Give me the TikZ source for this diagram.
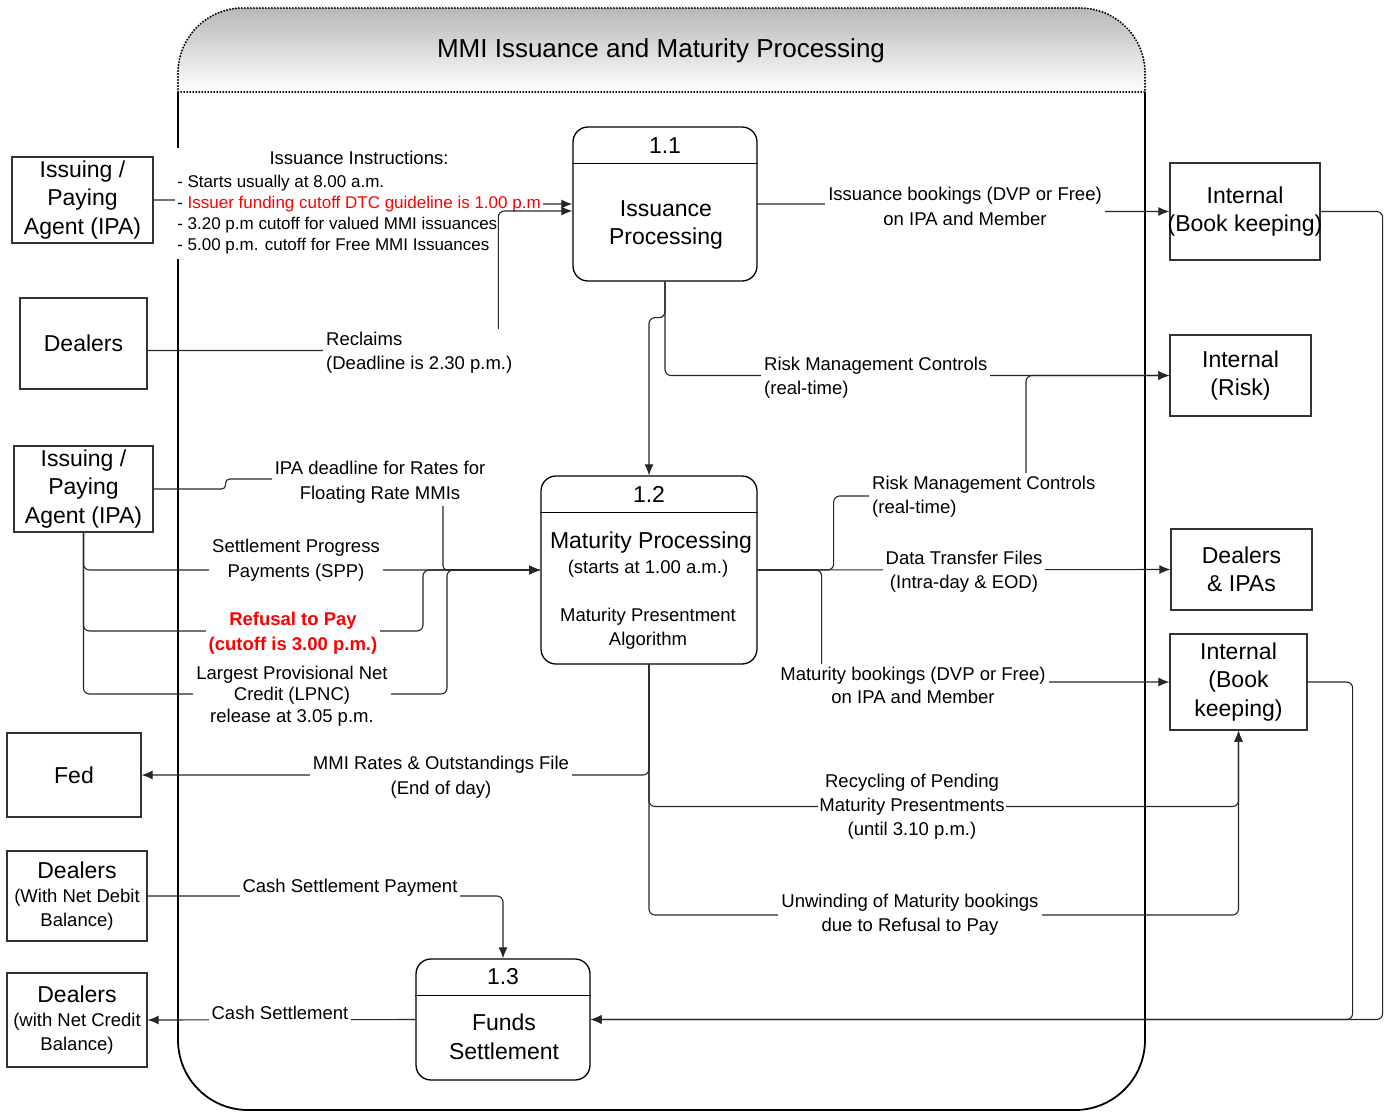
\documentclass[tikz,border=0pt]{standalone}
\usepackage{fontspec}
\setmainfont{Liberation Sans}
\usetikzlibrary{arrows.meta}

\pgfdeclarelayer{bg}
\pgfdeclarelayer{wires}
\pgfsetlayers{bg,wires,main}

\newcommand{\lblfont}{\fontsize{18.5}{24}\selectfont}
\newcommand{\boxfont}{\fontsize{23}{28.5}\selectfont}

\tikzset{
  ent/.style={draw=black!80, line width=1.2pt, fill=white, inner sep=0pt, align=center, font=\boxfont},
  proc/.style={draw, line width=1.3pt, rounded corners=15pt, fill=white, inner sep=0pt},
  num/.style={font=\boxfont, inner sep=0pt},
  lbl/.style={fill=white, inner xsep=3pt, inner ysep=3pt, align=center, font=\lblfont, yshift=-2.5pt},
  flow/.style={line width=1.1pt, draw=black!85, rounded corners=6pt},
  arr/.style={flow, -{Latex[length=11pt,width=9pt]}},
}

\begin{document}
\begin{tikzpicture}[x=1pt,y=-1pt]
\useasboundingbox (0,0) rectangle (1390,1112);

% container
\begin{pgfonlayer}{bg}
\shade[top color=black!28, bottom color=white]
  (178,92) -- (178,73) arc[start angle=180,end angle=90,radius=65pt]
  -- (1080,8) arc[start angle=90,end angle=0,radius=65pt] -- (1145,92) -- cycle;
\draw[line width=2.2pt, line cap=round, dash pattern=on 0pt off 3pt]
  (178,92) -- (178,73) arc[start angle=180,end angle=90,radius=65pt]
  -- (1080,8) arc[start angle=90,end angle=0,radius=65pt] -- (1145,92) -- cycle;
\draw[line width=1.8pt] (178,92) -- (178,1040) arc[start angle=180,end angle=270,radius=70pt]
  -- (1075,1110) arc[start angle=270,end angle=360,radius=70pt] -- (1145,92);
\end{pgfonlayer}

\node[font=\fontsize{26}{30}\selectfont] (title) at (661,51) {MMI Issuance and Maturity Processing};

% external entities
\node[ent, minimum width=141pt, minimum height=86pt] (ipa1) at (82.5,200) {Issuing /\\Paying\\Agent (IPA)};
\node[ent, minimum width=127pt, minimum height=91pt] (dealers1) at (83.5,343.5) {Dealers};
\node[ent, minimum width=139pt, minimum height=86pt] (ipa2) at (83.5,489) {Issuing /\\Paying\\Agent (IPA)};
\node[ent, minimum width=134pt, minimum height=84pt] (fed) at (74,775) {Fed};
\node[ent, minimum width=140pt, minimum height=90pt] (dDebit) at (77,896) {Dealers\\[-4pt]\lblfont(With Net Debit\\[-4.5pt]\lblfont Balance)};
\node[ent, minimum width=140pt, minimum height=94pt] (dCredit) at (77,1020) {Dealers\\[-4pt]\lblfont(with Net Credit\\[-4.5pt]\lblfont Balance)};
\node[ent, minimum width=150pt, minimum height=97pt] (book1) at (1245,211.5) {};
\node[font=\boxfont, align=center, inner sep=0pt] (book1txt) at (book1) {Internal\\(Book keeping)};
\node[ent, minimum width=141pt, minimum height=81pt] (risk) at (1240.5,375.5) {Internal\\(Risk)};
\node[ent, minimum width=141pt, minimum height=81pt] (dIPAs) at (1241.5,569.5) {Dealers\\\& IPAs};
\node[ent, minimum width=137pt, minimum height=96pt] (book2) at (1238.5,682) {Internal\\(Book\\keeping)};

% processes
\node[proc, minimum width=184pt, minimum height=154pt] (p11) at (665,204) {};
\draw[line width=1.3pt] ([yshift=-37pt]p11.north west) -- ([yshift=-37pt]p11.north east);
\node[num] (p11num) at (665,146) {1.1};
\node[font=\boxfont, align=center] (p11txt) at (666,225) {Issuance\\Processing};

\node[proc, minimum width=216pt, minimum height=188pt] (p12) at (649,570) {};
\draw[line width=1.3pt] ([yshift=-37pt]p12.north west) -- ([yshift=-37pt]p12.north east);
\node[num] (p12num) at (649,494) {1.2};
\node[font=\boxfont, inner sep=0pt] (p12txt) at (651,543) {Maturity Processing};
\node[font=\lblfont, inner sep=0pt] (p12time) at (648,569) {(starts at 1.00 a.m.)};
\node[font=\lblfont, align=center] (p12alg) at (648,629) {Maturity Presentment\\Algorithm};

\node[proc, minimum width=174pt, minimum height=121pt] (p13) at (503,1019.5) {};
\draw[line width=1.3pt] ([yshift=-37pt]p13.north west) -- ([yshift=-37pt]p13.north east);
\node[num] (p13num) at (503,977) {1.3};
\node[font=\boxfont, align=center] (p13txt) at (504,1037) {Funds\\Settlement};

% flow labels
\node[lbl, inner sep=2pt] (lblIssue) at (359,201) {\fontsize{17}{21}\selectfont\begin{tabular}{@{}l@{}}
  \multicolumn{1}{@{}c@{}}{\lblfont Issuance Instructions:}\\[2pt]
  - Starts usually at 8.00 a.m.\\
  - \textcolor{red}{Issuer funding cutoff DTC guideline is 1.00 p.m}\\
  - 3.20 p.m cutoff for valued MMI issuances\\
  - 5.00 p.m. cutoff for Free MMI Issuances
\end{tabular}};
\draw[arr] ([yshift=-7pt]dealers1.east) -| ([xshift=-74pt,yshift=-7pt]p11.west) -- ([yshift=-7pt]p11.west);
\node[lbl, align=left, anchor=west] (lblReclaim) at (323,350) {Reclaims\\(Deadline is 2.30 p.m.)};
\node[lbl, font=\fontsize{18.5}{25}\selectfont] (lblIssBook) at (965,203.5) {Issuance bookings (DVP or Free)\\on IPA and Member};
\node[lbl, align=left, anchor=west] (lblRisk1) at (761,375) {Risk Management Controls\\(real-time)};
\node[lbl, align=left, anchor=west] (lblRisk2) at (869,494.5) {Risk Management Controls\\(real-time)};
\node[lbl, font=\fontsize{18.5}{25}\selectfont] (lblFloat) at (380,479.5) {IPA deadline for Rates for\\Floating Rate MMIs};
\node[lbl, font=\fontsize{18.5}{25}\selectfont] (lblSPP) at (296,557.5) {Settlement Progress\\Payments (SPP)};
\node[lbl, text=red, font=\fontsize{18.5}{25}\selectfont\bfseries] (lblRefuse) at (293,630.5) {Refusal to Pay\\(cutoff is 3.00 p.m.)};
\node[lbl, font=\fontsize{18.5}{21.5}\selectfont] (lblLPNC) at (292,693.5) {Largest Provisional Net\\Credit (LPNC)\\release at 3.05 p.m.};
\node[lbl] (lblDTF) at (964,569) {Data Transfer Files\\(Intra-day \& EOD)};
\node[lbl, font=\fontsize{18.5}{23}\selectfont] (lblMatBook) at (913,682.5) {Maturity bookings (DVP or Free)\\on IPA and Member};
\node[lbl, font=\fontsize{18.5}{25}\selectfont] (lblFed) at (441,774.5) {MMI Rates \& Outstandings File\\(End of day)};
\node[lbl, inner sep=1.5pt] (lblRecyc) at (912,804) {Recycling of Pending\\Maturity Presentments\\(until 3.10 p.m.)};
\node[lbl] (lblUnwind) at (910,912.5) {Unwinding of Maturity bookings\\due to Refusal to Pay};
\node[lbl, inner ysep=5pt] (lblCashPay) at (350,885) {Cash Settlement Payment};
\node[lbl, inner ysep=5pt] (lblCash) at (280,1010) {Cash Settlement};

% flows
\begin{pgfonlayer}{wires}
\draw[arr] (ipa1.east) -- ++(40,0) |- (p11.west);
\draw[arr] (p11.east) -| (lblIssBook.center) |- (book1.west);
\draw[arr] (p11.south) |- (risk.west);
\draw[arr] (p11.south) -- ++(0,36) -| (p12.north);
\draw[arr] (p12.east) -- ++(76,0) |- (1026,496) |- (risk.west);
\draw[arr] (p12.east) -- (dIPAs.west);
\draw[arr] (p12.east) -- ++(64,0) |- (book2.west);
\draw[arr] (p12.south) |- (fed.east);
\draw[arr] (p12.south) |- (lblRecyc.center) -| (book2.south);
\draw[arr] (p12.south) |- (lblUnwind.center) -| (book2.south);
\draw[arr, rounded corners=4pt] (ipa2.east) -- ++(72,0) |- (443,479) |- (p12.west);
\draw[arr] (ipa2.south) |- (p12.west);
\draw[arr] (ipa2.south) |- (423,631) |- (p12.west);
\draw[arr] (ipa2.south) |- (447,694) |- (p12.west);
\draw[arr] (dDebit.east) -| (p13.north);
\draw[arr] (p13.west) -- (dCredit.east);
\draw[arr] (book1.east) -- ++(62,0) |- (p13.east);
\draw[arr] (book2.east) -- ++(45,0) |- (p13.east);
\end{pgfonlayer}
\end{tikzpicture}
\end{document}
